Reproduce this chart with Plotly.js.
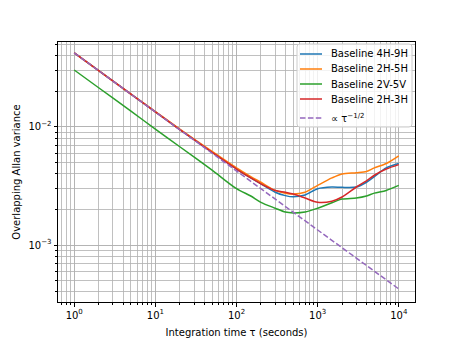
<!DOCTYPE html>
<html>
<head>
<meta charset="utf-8">
<script src="https://cdn.plot.ly/plotly-3.0.1.min.js"></script>
<style>
  html, body { margin: 0; padding: 0; background: #fff; }
  #chart { width: 460px; height: 345px; }
</style>
</head>
<body>
<div id="chart"></div>
<script>
// integration times (s)
var tau = [1, 2, 5, 10, 20, 50, 100, 150, 200, 300, 400, 500, 700, 1000, 1500, 2000, 3000, 4000, 5000, 7000, 10000];

var b4H9H = [0.0424, 0.030, 0.019, 0.0134, 0.0095, 0.0061, 0.0044, 0.0037, 0.0033, 0.0028, 0.00262, 0.00256, 0.00265, 0.0030, 0.0031, 0.00308, 0.0031, 0.0034, 0.0038, 0.0045, 0.0049];
var b2H5H = [0.0424, 0.030, 0.019, 0.0135, 0.0096, 0.0062, 0.0045, 0.0038, 0.0034, 0.0029, 0.00275, 0.0027, 0.0028, 0.0032, 0.0037, 0.0040, 0.0041, 0.0042, 0.0045, 0.0049, 0.0057];
var b2V5V = [0.0304, 0.0215, 0.0136, 0.0096, 0.0068, 0.0043, 0.0030, 0.0026, 0.0023, 0.00205, 0.0019, 0.00187, 0.0019, 0.00205, 0.00228, 0.00245, 0.0025, 0.0026, 0.00275, 0.0029, 0.0032];
var b2H3H = [0.0424, 0.030, 0.019, 0.0134, 0.0095, 0.0061, 0.0044, 0.0037, 0.0033, 0.0029, 0.0028, 0.0027, 0.0025, 0.0023, 0.00235, 0.00255, 0.0031, 0.0035, 0.0039, 0.0044, 0.0048];

// reference slope line end points
var refTau = [1, 10000];
var refVal = [0.0424, 0.000424];

var names = ['Baseline 4H-9H', 'Baseline 2H-5H', 'Baseline 2V-5V', 'Baseline 2H-3H', '\u221d \u03c4<sup>\u22121/2</sup>'];
var colors = ['#1f77b4', '#ff7f0e', '#2ca02c', '#d62728', '#9467bd'];
var series = [b4H9H, b2H5H, b2V5V, b2H3H];

var xTicks = [1, 10, 100, 1000, 10000];
var xTickText = ['10<sup>0</sup>', '10<sup>1</sup>', '10<sup>2</sup>', '10<sup>3</sup>', '10<sup>4</sup>'];
var yTicks = [0.001, 0.01];
var yTickText = ['10<sup>\u22123</sup>', '10<sup>\u22122</sup>'];

var dashPat = '5.5px,2.4px';

var data = [];
for (var i = 0; i < series.length; i++) {
  data.push({
    x: tau, y: series[i], name: names[i], type: 'scatter', mode: 'lines',
    line: {color: colors[i], width: 1.5, shape: 'spline', smoothing: 0.8}
  });
}
data.push({
  x: refTau, y: refVal, name: names[4], type: 'scatter', mode: 'lines',
  line: {color: colors[4], width: 1.5, dash: dashPat}
});

// legend drawn by hand (matplotlib style, tighter rows than plotly's)
var L = 58, T = 42, W = 357, H = 260;
function fx(px) { return (px - L) / W; }
function fy(py) { return (T + H - py) / H; }

var rowY = [54, 69, 84, 99, 118];
var bx0 = 297, bx1 = 412, by0 = 44, by1 = 127, rr = 3;
var shapes = [{
  type: 'path', xref: 'paper', yref: 'paper', layer: 'above',
  path: 'M' + fx(bx0 + rr) + ',' + fy(by0) +
        ' L' + fx(bx1 - rr) + ',' + fy(by0) +
        ' Q' + fx(bx1) + ',' + fy(by0) + ' ' + fx(bx1) + ',' + fy(by0 + rr) +
        ' L' + fx(bx1) + ',' + fy(by1 - rr) +
        ' Q' + fx(bx1) + ',' + fy(by1) + ' ' + fx(bx1 - rr) + ',' + fy(by1) +
        ' L' + fx(bx0 + rr) + ',' + fy(by1) +
        ' Q' + fx(bx0) + ',' + fy(by1) + ' ' + fx(bx0) + ',' + fy(by1 - rr) +
        ' L' + fx(bx0) + ',' + fy(by0 + rr) +
        ' Q' + fx(bx0) + ',' + fy(by0) + ' ' + fx(bx0 + rr) + ',' + fy(by0) + ' Z',
  fillcolor: 'rgba(255,255,255,0.8)', line: {color: '#cccccc', width: 1}
}];
var annotations = [];
for (var k = 0; k < names.length; k++) {
  shapes.push({
    type: 'line', xref: 'paper', yref: 'paper', layer: 'above',
    x0: fx(300), x1: fx(322), y0: fy(rowY[k]), y1: fy(rowY[k]),
    line: {color: colors[k], width: 1.5, dash: k === 4 ? dashPat : 'solid'}
  });
  annotations.push({
    xref: 'paper', yref: 'paper', x: fx(329), y: fy(rowY[k]),
    xanchor: 'left', yanchor: 'middle', showarrow: false,
    text: names[k], font: {size: 10, color: '#000'}
  });
}

var gridc = '#b0b0b0';

var layout = {
  width: 460, height: 345,
  margin: {l: L, r: 460 - L - W, t: T, b: 345 - T - H},
  paper_bgcolor: '#fff',
  plot_bgcolor: '#fff',
  font: {family: 'DejaVu Sans, sans-serif', size: 10, color: '#000'},
  showlegend: false,
  shapes: shapes,
  annotations: annotations,
  xaxis: {
    type: 'log', range: [-0.2, 4.2],
    tickmode: 'array', tickvals: xTicks, ticktext: xTickText,
    ticks: 'outside', ticklen: 3.5, tickcolor: '#000',
    showgrid: true, gridcolor: gridc, gridwidth: 0.8,
    showline: true, linecolor: '#000', linewidth: 1, mirror: true,
    zeroline: false,
    minor: {dtick: 'D1', showgrid: true, gridcolor: gridc, gridwidth: 0.8, ticks: 'outside', ticklen: 2, tickcolor: '#000'},
    title: {text: 'Integration time \u03c4 (seconds)', standoff: 9, font: {size: 10}}
  },
  yaxis: {
    type: 'log', range: [-3.483, -1.28],
    tickmode: 'array', tickvals: yTicks, ticktext: yTickText,
    ticks: 'outside', ticklen: 3.5, tickcolor: '#000',
    showgrid: true, gridcolor: gridc, gridwidth: 0.8,
    showline: true, linecolor: '#000', linewidth: 1, mirror: true,
    zeroline: false,
    minor: {dtick: 'D1', showgrid: true, gridcolor: gridc, gridwidth: 0.8, ticks: 'outside', ticklen: 2, tickcolor: '#000'},
    title: {text: 'Overlapping Allan variance', standoff: 5, font: {size: 10}}
  }
};

Plotly.newPlot('chart', data, layout, {displayModeBar: false, staticPlot: true});
</script>
</body>
</html>
